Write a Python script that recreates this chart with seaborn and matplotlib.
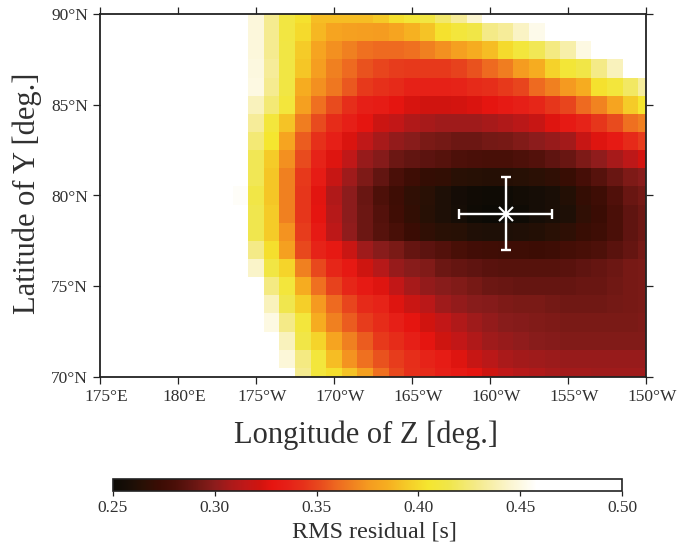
import numpy as np
import pandas as pd
import matplotlib
matplotlib.use("Agg")
import matplotlib.pyplot as plt
from matplotlib.colors import LinearSegmentedColormap
from matplotlib.transforms import ScaledTranslation
import seaborn as sns

# longitude steps east of 175E, one per degree
lons = list(range(175, 211))
lats = list(range(90, 69, -1))
x_tick_labels = ["175°E", "180°E", "175°W", "170°W", "165°W", "160°W", "155°W", "150°W"]
y_tick_labels = ["70°N", "75°N", "80°N", "85°N", "90°N"]

# (first column index, values eastward) for each latitude
lat90 = (10, [.448,.43,.412,.403,.39,.39,.39,.39,.394,.402,.408,.412,.422,.432,.445])
lat89 = (10, [.448,.43,.412,.40,.388,.38,.378,.377,.376,.38,.386,.392,.403,.41,.414,.428,.432,.442,.452])
lat88 = (10, [.448,.43,.413,.395,.38,.372,.367,.362,.36,.36,.362,.367,.372,.378,.384,.39,.40,.41,.417,.427,.436,.45])
lat87 = (10, [.449,.432,.413,.393,.377,.367,.36,.354,.35,.347,.346,.346,.346,.349,.354,.36,.366,.376,.384,.397,.408,.414,.428,.44])
lat86 = (10, [.45,.43,.413,.384,.372,.364,.355,.346,.343,.34,.336,.336,.336,.337,.34,.342,.346,.35,.36,.367,.375,.384,.403,.41,.42,.433])
lat85 = (10, [.44,.424,.41,.378,.362,.352,.342,.335,.333,.328,.324,.322,.322,.323,.325,.328,.332,.335,.338,.345,.35,.36,.368,.38,.395,.405])
lat84 = (10, [.432,.41,.392,.366,.352,.341,.335,.328,.32,.316,.31,.307,.305,.305,.305,.307,.31,.313,.318,.326,.332,.337,.345,.352,.362,.367])
lat83 = (10, [.424,.405,.38,.356,.343,.335,.325,.315,.307,.302,.299,.295,.293,.291,.291,.293,.294,.297,.30,.303,.306,.318,.326,.332,.34,.347])
lat82 = (10, [.417,.395,.372,.352,.337,.326,.315,.303,.298,.291,.288,.286,.284,.281,.28,.279,.279,.281,.283,.287,.29,.296,.301,.307,.314,.323])
lat81 = (10, [.417,.393,.367,.346,.333,.318,.305,.296,.288,.28,.274,.27,.269,.265,.264,.263,.263,.264,.266,.268,.271,.278,.284,.29,.296,.299])
lat80 = (9, [.456,.414,.393,.367,.345,.327,.31,.30,.29,.281,.274,.268,.265,.26,.255,.253,.252,.252,.254,.256,.258,.262,.27,.274,.282,.29,.293])
lat79 = (10, [.416,.395,.367,.345,.328,.312,.30,.291,.283,.275,.269,.264,.26,.256,.252,.25,.25,.252,.256,.258,.26,.268,.272,.28,.287,.291])
lat78 = (10, [.416,.395,.373,.347,.332,.314,.301,.291,.284,.279,.272,.268,.265,.264,.261,.26,.26,.261,.262,.265,.267,.271,.274,.28,.287,.291])
lat77 = (10, [.428,.402,.378,.351,.337,.331,.319,.305,.299,.295,.289,.286,.283,.279,.276,.275,.274,.274,.273,.274,.277,.279,.281,.285,.289,.293])
lat76 = (10, [.443,.413,.398,.367,.351,.338,.331,.321,.312,.303,.299,.297,.291,.289,.287,.285,.284,.284,.284,.284,.285,.287,.289,.291,.294,.295])
lat75 = (11, [.427,.41,.384,.362,.349,.338,.332,.326,.316,.307,.302,.299,.297,.294,.291,.29,.289,.289,.289,.289,.29,.29,.292,.294,.295])
lat74 = (11, [.44,.416,.396,.375,.36,.35,.34,.337,.326,.319,.313,.305,.302,.299,.298,.296,.295,.295,.293,.292,.292,.292,.293,.294,.295])
lat73 = (11, [.45,.428,.41,.384,.367,.356,.347,.341,.335,.328,.322,.316,.31,.305,.302,.299,.298,.297,.296,.295,.295,.295,.295,.295,.296])
lat72 = (12, [.44,.414,.398,.38,.367,.356,.346,.341,.335,.328,.321,.316,.31,.305,.303,.301,.299,.298,.297,.297,.297,.297,.297,.297])
lat71 = (12, [.447,.427,.41,.39,.373,.362,.354,.347,.342,.337,.333,.326,.318,.313,.308,.306,.305,.304,.303,.303,.303,.303,.303,.303])
lat70 = (13, [.43,.41,.402,.392,.378,.362,.351,.343,.34,.335,.332,.328,.321,.315,.312,.31,.307,.306,.306,.305,.305,.305,.305])

rows = [lat90, lat89, lat88, lat87, lat86, lat85, lat84, lat83, lat82, lat81, lat80,
        lat79, lat78, lat77, lat76, lat75, lat74, lat73, lat72, lat71, lat70]

best_lon, best_lat = 201, 79
err_lon, err_lat = 3, 2

matrix = np.full((len(lats), len(lons)), np.nan)
for r, (start, vals) in enumerate(rows):
    matrix[r, start:start + len(vals)] = vals
df = pd.DataFrame(matrix, index=lats, columns=lons)

vmin, vmax = 0.25, 0.50
cmap_values = [.25, .258, .265, .272, .28, .287, .295, .30, .307, .315, .322, .328, .335,
               .343, .352, .36, .367, .375, .385, .395, .405, .415, .43, .445, .458, .50]
cmap_colors = ["#0c0a05", "#1a0e06", "#2a1005", "#3a0c04", "#4a0f08", "#601410", "#7a1a16",
               "#8c1c1c", "#a81a1a", "#c01818", "#d0140f", "#e61510", "#e61f17", "#e6301a",
               "#e84c1e", "#ee6a20", "#f08020", "#f59a20", "#f6ae20", "#f5cc28", "#f5e62f",
               "#f0e64a", "#f5eb90", "#fbf5d0", "#ffffff", "#ffffff"]
stops = [((v - vmin) / (vmax - vmin), c) for v, c in zip(cmap_values, cmap_colors)]
cmap = LinearSegmentedColormap.from_list("gmt_hot", stops, N=512)

W, H = 697, 549
plt.rcParams["font.family"] = ["Liberation Serif", "DejaVu Serif"]
ink = "#222222"
text_ink = "#303030"
fig = plt.figure(figsize=(W / 100, H / 100), dpi=100, facecolor="white")
ax = fig.add_axes([100 / W, 1 - 377 / H, 546 / W, 363 / H])
cax = fig.add_axes([113 / W, 1 - 491 / H, 509 / W, 12 / H])

sns.heatmap(df, ax=ax, cmap=cmap, vmin=vmin, vmax=vmax, cbar_ax=cax,
            cbar_kws={"orientation": "horizontal"}, linewidths=0,
            xticklabels=False, yticklabels=False, rasterized=True)

# heatmap cells are centred at +0.5: clip to half cells at the map border
ax.set_xlim(0.5, len(lons) - 0.5)
ax.set_ylim(len(lats) - 0.5, 0.5)
ax.set_xticks(np.arange(0.5, len(lons), 5))
ax.set_xticklabels(x_tick_labels)
ax.set_yticks(np.arange(len(lats) - 0.5, 0, -5))
ax.set_yticklabels(y_tick_labels, rotation=0)
ax.tick_params(axis="both", direction="out", length=5, width=0.9, color=ink,
               labelsize=12.5, labelcolor=text_ink, top=True, right=True, pad=3.5)
shift = ScaledTranslation(6 / 100, 0, fig.dpi_scale_trans)
for lab in ax.get_xticklabels():
    lab.set_transform(lab.get_transform() + shift)
for s in ax.spines.values():
    s.set_visible(True)
    s.set_linewidth(1.3)
    s.set_color(ink)
ax.set_xlabel("Longitude of Z [deg.]", fontsize=22, color=text_ink, labelpad=11, x=(366 - 100) / 546)
ax.set_ylabel("Latitude of Y [deg.]", fontsize=22, color=text_ink, labelpad=7, y=(377 - 193) / 363)

bx = lons.index(best_lon) + 0.5
by = lats.index(best_lat) + 0.5
ax.errorbar([bx], [by], xerr=[err_lon], yerr=[err_lat], color="white", ecolor="white",
            elinewidth=1.7, capsize=3.3, capthick=1.7, fmt="none", zorder=5)
ax.plot([bx], [by], marker="x", ms=10, mew=1.5, color="white", ls="none", zorder=6)

cb = ax.collections[0].colorbar
cb.set_ticks([0.25, 0.30, 0.35, 0.40, 0.45, 0.50])
cb.set_ticklabels(["0.25", "0.30", "0.35", "0.40", "0.45", "0.50"])
cax.tick_params(direction="out", length=3.5, width=0.9, color=ink, labelsize=12.5,
                labelcolor=text_ink, pad=3)
cb.outline.set_linewidth(1.2)
cb.outline.set_edgecolor(ink)
cb.set_label("RMS residual [s]", fontsize=17.4, color=text_ink, labelpad=4, x=(374 - 113) / 509)

fig.savefig("out.png", dpi=100, facecolor="white")
